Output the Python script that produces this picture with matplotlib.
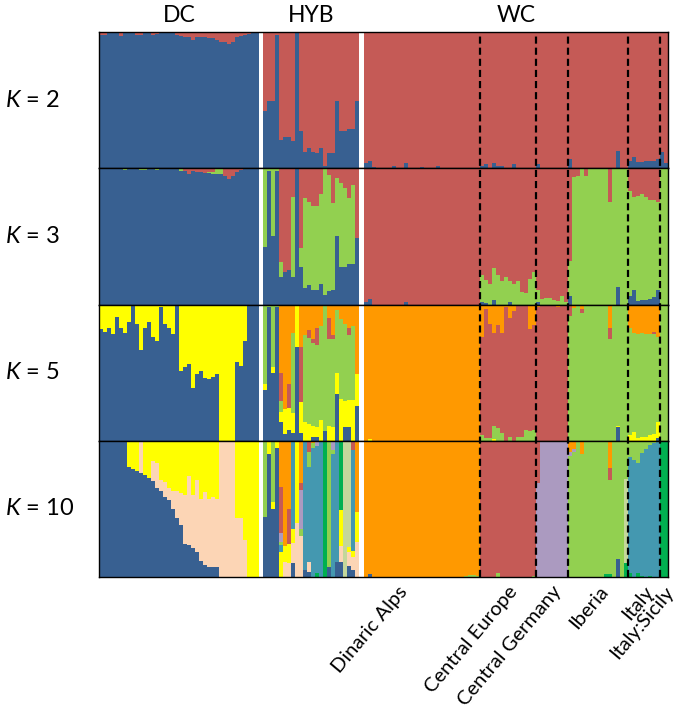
import matplotlib
matplotlib.use("Agg")
import matplotlib.pyplot as plt
import numpy as np

plt.rcParams["font.family"] = ["Lato", "DejaVu Sans"]
plt.rcParams["mathtext.fontset"] = "custom"
plt.rcParams["mathtext.it"] = "Lato:italic"
plt.rcParams["mathtext.rm"] = "Lato"

# sampled populations, left to right
groups = ["DC", "HYB", "Dinaric Alps", "Central Europe", "Central Germany", "Iberia", "Italy", "Italy:Sicily"]
group_sizes = [40, 24, 29, 14, 8, 15, 8, 2]
top_labels = ["DC", "HYB", "WC"]
k_values = [2, 3, 5, 10]

BLUE, RED, GREEN, ORANGE, YELLOW = "#386091", "#C55A56", "#92D050", "#FF9900", "#FFFF00"
PEACH, LAVENDER, TEAL, DKGREEN, SAGE = "#FCD5B5", "#AB9AC0", "#4498B0", "#00B050", "#C4D79B"

# ---- K = 2 (blue, red on top) ----
k2_blue = ([0.98, 0.98, 0.99, 0.99, 0.99, 0.97, 0.99, 0.99, 0.99, 0.98, 0.98, 0.99, 0.99, 0.98, 0.985, 0.99, 0.99, 0.99, 0.99, 0.98,
            0.97, 0.965, 0.96, 0.94, 0.96, 0.965, 0.96, 0.955, 0.955, 0.94, 0.93, 0.93, 0.91, 0.93, 0.96, 0.97, 0.98, 0.985, 0.99, 0.995]
           + [0.42, 0.49, 0.49, 0.98, 0.21, 0.23, 0.23, 0.20, 0.99, 0.27, 0.12, 0.15, 0.12, 0.11, 0.15, 0.02, 0.11, 0.11, 0.49, 0.27, 0.27, 0.29, 0.29, 0.49]
           + [0.04, 0.05, 0.01, 0, 0, 0, 0, 0.02, 0, 0, 0.04, 0, 0, 0, 0.01, 0, 0, 0, 0.02, 0, 0, 0, 0, 0, 0, 0, 0, 0, 0]
           + [0.02, 0.03, 0, 0.04, 0.015, 0.02, 0, 0, 0.03, 0, 0, 0, 0, 0]
           + [0.03, 0, 0, 0, 0, 0, 0, 0]
           + [0.07, 0, 0, 0, 0, 0, 0, 0, 0, 0, 0, 0, 0.13, 0, 0]
           + [0.055, 0.08, 0.045, 0.045, 0.055, 0.055, 0.055, 0.07]
           + [0.12, 0.04])

# ---- K = 3 (blue, green, red on top) ----
k3_blue = ([1, 1, 1, 1, 1, 1, 0.99, 1, 1, 1, 0.99, 0.99, 1, 1, 0.99, 1, 1, 1, 1, 1,
            0.98, 0.98, 0.955, 0.98, 0.97, 0.97, 0.965, 0.965, 0.96, 0.955, 0.955, 0.94, 0.92, 0.94, 0.97, 0.99, 1, 1, 1, 1]
           + [0.42, 0.98, 0.5, 0.98, 0.2, 0.235, 0.25, 0.2, 1.0, 0.275, 0.12, 0.14, 0.11, 0.105, 0.15, 0.07, 0.1, 0.105, 0.5, 0.275, 0.275, 0.3, 0.3, 0.49]
           + [0.02, 0.04, 0, 0, 0, 0, 0, 0, 0, 0, 0.02] + [0] * 18
           + [0.02, 0.01, 0, 0.035, 0, 0, 0, 0.02, 0, 0, 0, 0, 0, 0]
           + [0.02, 0, 0, 0, 0, 0, 0, 0]
           + [0.06, 0, 0, 0, 0, 0, 0, 0, 0, 0, 0, 0, 0.13, 0, 0]
           + [0.06, 0.11, 0.025, 0.03, 0.035, 0.04, 0.055, 0.11]
           + [0, 0])
k3_green = ([0, 0, 0, 0, 0, 0, 0.01, 0, 0, 0, 0.01, 0.01, 0, 0, 0.01, 0, 0, 0, 0, 0,
             0.02, 0, 0, 0, 0, 0, 0, 0.01, 0.01, 0.045, 0.045, 0, 0, 0, 0, 0, 0, 0, 0, 0]
            + [0.58, 0.02, 0.5, 0.02, 0.11, 0, 0, 0.59, 0, 0.14, 0.66, 0.61, 0.615, 0.62, 0.66, 0.93, 0.85, 0.64, 0.43, 0.62, 0.58, 0.48, 0.58, 0]
            + [0] * 29
            + [0.2, 0.17, 0.15, 0.235, 0.22, 0.17, 0.2, 0.155, 0.15, 0.175, 0.09, 0.085, 0.185, 0.235]
            + [0.085, 0.04, 0.045, 0.045, 0.03, 0.025, 0.06, 0.02]
            + [0.26, 0.935, 0.94, 1, 0.94, 1, 1, 1, 1, 1, 0.755, 1, 0.87, 1, 1]
            + [0.775, 0.68, 0.775, 0.78, 0.755, 0.73, 0.715, 0.64]
            + [1, 1])

# ---- K = 5 (blue, yellow, green, red, orange on top) ----
k5_blue = ([0.82, 0.8, 0.83, 0.78, 0.91, 0.825, 0.79, 0.875, 1.0, 0.86, 0.665, 0.83, 0.875, 0.765, 0.73, 0.98, 0.855, 0.825, 0.78, 1.0,
            0.51, 0.54, 0.565, 0.39, 0.49, 0.515, 0.46, 0.45, 0.47, 0.49, 0, 0, 0, 0, 0.58, 0.55, 0.73, 1, 1, 1]
           + [0.375, 0.98, 0.5, 0.98, 0.14, 0.05, 0.08, 0.055, 0.69, 0.055, 0, 0, 0.03, 0.03, 0, 0.07, 0, 0, 0.34, 0, 0.1, 0.1, 0, 0.255]
           + [0] * 29 + [0] * 14 + [0] * 8
           + [0, 0, 0, 0, 0, 0, 0, 0, 0, 0, 0, 0, 0.1, 0, 0]
           + [0, 0, 0, 0, 0, 0, 0, 0.02]
           + [0, 0])
k5_yellow = ([0.18, 0.2, 0.17, 0.22, 0.09, 0.175, 0.21, 0.125, 0.0, 0.14, 0.335, 0.17, 0.125, 0.235, 0.27, 0.02, 0.145, 0.175, 0.22, 0.0,
              0.49, 0.46, 0.435, 0.61, 0.51, 0.485, 0.54, 0.55, 0.53, 0.51, 1.0, 1.0, 1.0, 1.0, 0.42, 0.45, 0.27, 0, 0, 0]
             + [0.04, 0, 0.04, 0, 0.07, 0.18, 0.16, 0.15, 0.31, 0.23, 0.14, 0.12, 0.08, 0.07, 0.15, 0, 0.105, 0.1, 0.155, 0.305, 0.19, 0.2, 0.3, 0.235]
             + [0, 0.01] + [0] * 27
             + [0, 0, 0, 0.015, 0, 0, 0, 0, 0, 0, 0, 0, 0, 0]
             + [0] * 8
             + [0, 0, 0, 0, 0, 0, 0, 0, 0, 0, 0, 0, 0.01, 0, 0]
             + [0.04, 0.065, 0.02, 0.025, 0.03, 0.04, 0.05, 0.12]
             + [0, 0])
k5_green = ([0] * 40
            + [0.585, 0.02, 0.46, 0.02, 0.08, 0, 0, 0.585, 0, 0, 0.635, 0.635, 0.61, 0.6, 0.69, 0.93, 0.64, 0.645, 0.465, 0.585, 0.57, 0.475, 0.54, 0]
            + [0] * 29
            + [0.04, 0.02, 0.02, 0.09, 0.09, 0.06, 0, 0.03, 0, 0.03, 0.03, 0.08, 0.07, 0.08]
            + [0] * 8
            + [0.915, 0.975, 1, 0.94, 1, 1, 1, 1, 1, 1, 0.745, 1, 0.89, 1, 1]
            + [0.785, 0.725, 0.76, 0.765, 0.75, 0.745, 0.73, 0.625]
            + [1, 1])
k5_red = ([0] * 40
          + [0, 0, 0, 0, 0.21, 0, 0.175, 0, 0, 0.405, 0, 0.06, 0.025, 0.13, 0, 0, 0.155, 0.03, 0, 0, 0, 0.05, 0, 0]
          + [0] * 29
          + [0.725, 0.95, 0.84, 0.685, 0.76, 0.73, 0.98, 0.87, 0.95, 0.97, 0.97, 0.92, 0.75, 0.77]
          + [0.98, 1, 0.99, 1, 1, 0.98, 1, 1]
          + [0.085, 0, 0, 0.025, 0, 0, 0, 0, 0, 0, 0.08, 0, 0, 0, 0]
          + [0, 0, 0, 0, 0, 0, 0.02, 0]
          + [0, 0])

# ---- K = 10 (blue, peach, yellow, dark green, sage, teal, green, lavender, red, orange on top) ----
k10_blue = ([1, 1, 1, 1, 1, 1, 1, 0.81, 0.79, 0.78, 0.765, 0.75, 0.73, 0.705, 0.655, 0.63, 0.59, 0.565, 0.5, 0.435,
             0.385, 0.24, 0.235, 0.21, 0.185, 0.12, 0.085, 0.07, 0.07, 0.07, 0, 0, 0, 0, 0, 0, 0, 0, 0, 0]
            + [0.44, 0.9, 0.5, 0.95, 0, 0, 0, 0.1, 0, 0, 0.05, 0.04, 0, 0, 0, 0, 0.07, 0, 0.11, 0.11, 0, 0.08, 0.05, 0]
            + [0, 0.02] + [0] * 27 + [0] * 14 + [0] * 8
            + [0, 0, 0, 0, 0, 0, 0, 0, 0, 0, 0, 0, 0.13, 0, 0]
            + [0] * 8 + [0, 0])
k10_peach = ([0, 0, 0, 0, 0, 0, 0, 0, 0, 0, 0.235, 0, 0, 0.145, 0.185, 0.08, 0.11, 0.085, 0.13, 0.195,
              0.235, 0.36, 0.505, 0.39, 0.525, 0.45, 0.54, 0.5, 0.52, 0.5, 1, 1, 1, 1, 0.435, 0.435, 0.27, 0, 0, 0]
             + [0, 0, 0, 0, 0, 0.11, 0.1, 0.15, 0.4, 0.3, 0, 0.07, 0, 0, 0, 0, 0, 0, 0, 0.12, 0, 0.1, 0.1, 0.26]
             + [0] * 76)
k10_yellow = ([0, 0, 0, 0, 0, 0, 0, 0.19, 0.21, 0.22, 0, 0.25, 0.27, 0.15, 0.16, 0.29, 0.3, 0.35, 0.37, 0.37,
               0.38, 0.4, 0.26, 0.4, 0.29, 0.43, 0.375, 0.43, 0.41, 0.43, 0, 0, 0, 0, 0.565, 0.565, 0.73, 1, 1, 1]
              + [0, 0.1, 0.05, 0.05, 0.185, 0.12, 0.14, 0.1, 0.6, 0, 0, 0, 0, 0, 0, 0, 0, 0, 0, 0.26, 0, 0.04, 0.04, 0.22]
              + [0] * 76)
k10_dkgreen = ([0] * 40
               + [0, 0, 0, 0, 0, 0, 0, 0, 0, 0, 0, 0, 0, 0.03, 0, 1.0, 0, 0, 0, 0.51, 0, 0, 0, 0]
               + [0] * 29 + [0] * 14 + [0] * 8
               + [0, 0, 0, 0, 0, 0, 0, 0, 0, 0.02, 0.02, 0, 0, 0, 0.1]
               + [0.03, 0, 0.03, 0.01, 0, 0.01, 0, 0]
               + [1, 1])
k10_sage = ([0] * 40
            + [0] * 20 + [1.0, 0.78, 0, 0]
            + [0] * 29 + [0] * 14 + [0] * 8
            + [0] * 14 + [0.62]
            + [0] * 8 + [0, 0])
k10_teal = ([0] * 40
            + [0, 0, 0, 0, 0.05, 0, 0, 0.65, 0, 0, 0.95, 0.7, 0.95, 0.93, 1.0, 0, 0, 0.9, 0.89, 0, 0, 0, 0.74, 0]
            + [0] * 29 + [0] * 14 + [0] * 8 + [0] * 15
            + [0.85, 0.86, 0.81, 0.9, 0.94, 0.96, 0.98, 1.0]
            + [0, 0])
k10_green = ([0] * 40
             + [0.56, 0, 0.45, 0, 0.025, 0, 0, 0, 0, 0.05, 0, 0.11, 0.03, 0, 0, 0, 0.93, 0.03, 0, 0, 0, 0, 0, 0]
             + [0] * 25 + [0.01, 0.015, 0.015, 0.01]
             + [0, 0, 0, 0, 0.03, 0, 0, 0, 0, 0, 0, 0, 0, 0.01]
             + [0] * 8
             + [0.89, 0.92, 1, 0.9, 1, 1, 1, 1, 1, 0.98, 0.69, 1, 0.87, 1, 0.28]
             + [0.12, 0.14, 0.16, 0.09, 0.06, 0.03, 0.02, 0]
             + [0, 0])
k10_lavender = ([0] * 40
                + [0, 0, 0, 0, 0.06, 0, 0, 0, 0, 0.29, 0, 0, 0, 0.04, 0, 0, 0, 0.07, 0, 0, 0, 0, 0, 0]
                + [0] * 29 + [0] * 14
                + [0.69, 1, 1, 1, 1, 1, 1, 1]
                + [0.03, 0.02] + [0] * 13
                + [0] * 8 + [0, 0])
k10_red = ([0] * 40
           + [0, 0, 0, 0, 0.34, 0, 0.26, 0, 0, 0.05, 0, 0.08, 0, 0, 0, 0, 0, 0, 0, 0, 0, 0, 0.07, 0]
           + [0] * 29
           + [1, 1, 1, 1, 0.97, 1, 1, 1, 1, 1, 1, 1, 1, 0.99]
           + [0.31, 0, 0, 0, 0, 0, 0, 0]
           + [0, 0, 0, 0, 0, 0, 0, 0, 0, 0, 0.09, 0, 0, 0, 0]
           + [0] * 8 + [0, 0])

panels = [
    [(BLUE, k2_blue), (RED, None)],
    [(BLUE, k3_blue), (GREEN, k3_green), (RED, None)],
    [(BLUE, k5_blue), (YELLOW, k5_yellow), (GREEN, k5_green), (RED, k5_red), (ORANGE, None)],
    [(BLUE, k10_blue), (PEACH, k10_peach), (YELLOW, k10_yellow), (DKGREEN, k10_dkgreen), (SAGE, k10_sage),
     (TEAL, k10_teal), (GREEN, k10_green), (LAVENDER, k10_lavender), (RED, k10_red), (ORANGE, None)],
]

# bar positions, with white gaps after DC and after HYB
gap_after = [1.0, 1.25, 0, 0, 0, 0, 0, 0]
x = []
starts = []
pos = 0.0
for size, gap in zip(group_sizes, gap_after):
    starts.append(pos)
    x.extend(pos + np.arange(size))
    pos += size + gap
x = np.array(x)
x_max = x[-1] + 1

fig = plt.figure(figsize=(6.85, 7.23), dpi=100)
left, width = 99 / 685, 569 / 685
top, bottom = 1 - 32 / 723, 1 - 577 / 723
ph = (top - bottom) / 4

axes = []
for row, (k, clusters) in enumerate(zip(k_values, panels)):
    ax = fig.add_axes([left, top - (row + 1) * ph, width, ph])
    base = np.zeros(len(x))
    for color, vals in clusters:
        v = np.clip(1 - base, 0, None) if vals is None else np.array(vals, dtype=float)
        ax.bar(x, v, bottom=base, width=1.0, align="edge", color=color, linewidth=0, antialiased=False)
        base = base + v
    ax.set_xlim(0, x_max)
    ax.set_ylim(0, 1)
    ax.set_xticks([])
    ax.set_yticks([])
    for sp in ax.spines.values():
        sp.set_color("black")
        sp.set_linewidth(1.0)
    fig.text(5 / 685, top - (row + 0.5) * ph, f"$K$ = {k}", fontsize=17, ha="left", va="center")
    axes.append(ax)

# dashed region separators inside WC, drawn over all panels
ov = fig.add_axes([left, bottom, width, top - bottom], facecolor="none")
ov.set_xlim(0, x_max)
ov.set_ylim(0, 1)
ov.axis("off")
for i in range(3, len(groups)):
    ov.axvline(starts[i], color="black", lw=1.6, linestyle=(0, (3.2, 1.8)))

# group names above the plot
dc_mid = starts[0] + group_sizes[0] / 2
hyb_mid = starts[1] + group_sizes[1] / 2
wc_mid = (starts[2] + x_max) / 2
for name, xm in zip(top_labels, [dc_mid, hyb_mid, wc_mid]):
    ov.text(xm, 1.0 + 17 / 545, name, fontsize=16.5, ha="center", va="center")

# region names below the plot
label_shift = [0, 0, -6, 0, 0, 0, 0, 0]
for i in range(2, len(groups)):
    xm = starts[i] + group_sizes[i] / 2 + label_shift[i]
    ov.text(xm, -6 / 545, groups[i], fontsize=14.5, rotation=50, ha="right", va="top",
            rotation_mode="anchor")

fig.savefig("out.png", dpi=100)
